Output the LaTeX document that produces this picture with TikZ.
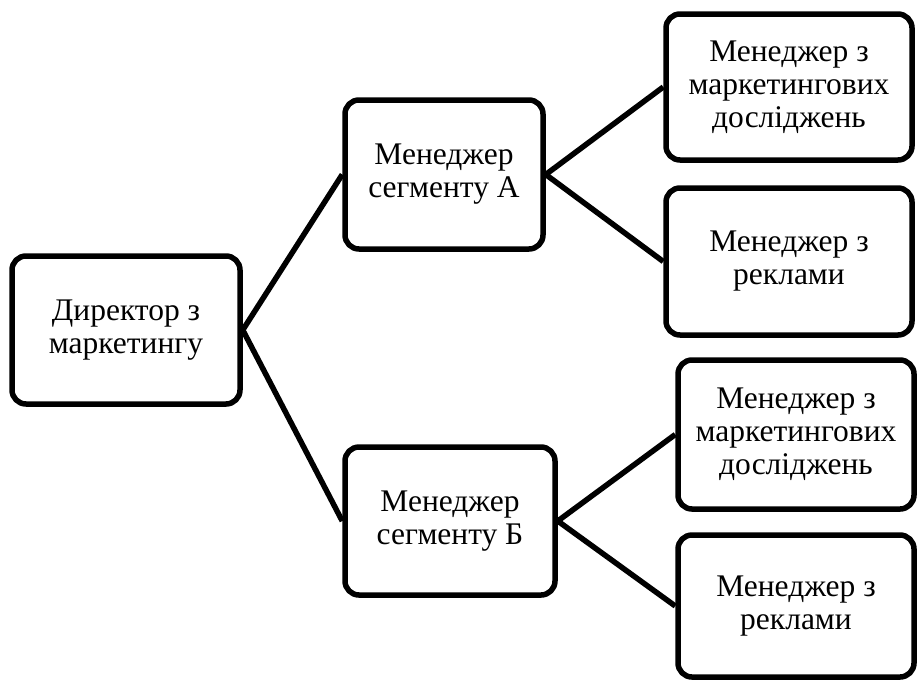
\documentclass[tikz,border=0pt]{standalone}
\usepackage{fontspec}
\setmainfont{Liberation Serif}
\begin{document}
\begin{tikzpicture}[x=1pt,y=-1pt,
  box/.style={draw=black, line width=5.5pt, rounded corners=14pt, fill=white,
    align=center, inner sep=0pt, font=\fontsize{31.5}{33}\selectfont},
  link/.style={draw=black, line width=5.5pt}]
\useasboundingbox (0,0) rectangle (917,681);
\node[box, minimum width=228pt, minimum height=148pt] (dir) at (126,330) {Директор з\\маркетингу};
\node[box, minimum width=198pt, minimum height=149pt] (sa) at (444,174.5) {Менеджер\\сегменту А};
\node[box, minimum width=210pt, minimum height=148pt] (sb) at (450,521) {Менеджер\\сегменту Б};
\node[box, minimum width=246pt, minimum height=146pt] (a1) at (789,87) {Менеджер з\\маркетингових\\досліджень};
\node[box, minimum width=246pt, minimum height=147pt] (a2) at (789,261.5) {Менеджер з\\реклами};
\node[box, minimum width=236pt, minimum height=149pt] (b1) at (796,434.5) {Менеджер з\\маркетингових\\досліджень};
\node[box, minimum width=236pt, minimum height=142pt] (b2) at (796,606) {Менеджер з\\реклами};
\draw[link] (dir.east) -- (sa.west);
\draw[link] (dir.east) -- (sb.west);
\draw[link] (sa.east) -- (a1.west);
\draw[link] (sa.east) -- (a2.west);
\draw[link] (sb.east) -- (b1.west);
\draw[link] (sb.east) -- (b2.west);
\end{tikzpicture}
\end{document}
